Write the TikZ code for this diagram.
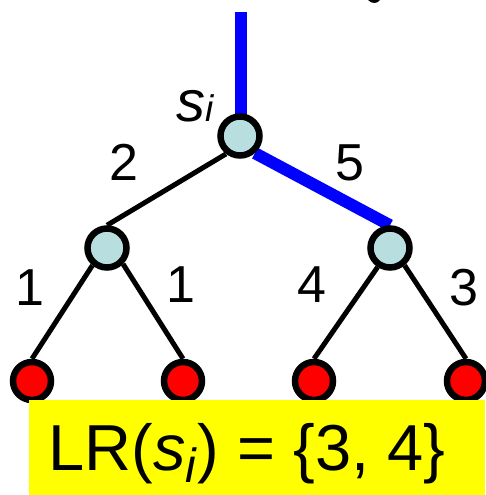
\documentclass[tikz,border=0pt]{standalone}
\usepackage{fontspec}
\setmainfont{Liberation Sans}
\usetikzlibrary{backgrounds}
\definecolor{nodeblue}{RGB}{185,222,224}
\definecolor{pathblue}{RGB}{0,0,255}
\definecolor{leafred}{RGB}{255,0,0}
\definecolor{boxyellow}{RGB}{255,255,0}
\tikzset{
  inner/.style={circle,draw=black,line width=6.5pt,fill=nodeblue,minimum size=39pt,inner sep=0pt},
  leaf/.style={circle,draw=black,line width=6.5pt,fill=leafred,minimum size=38pt,inner sep=0pt},
  edge/.style={line width=5pt,black},
  hot/.style={line width=12pt,pathblue},
  weight/.style={inner sep=0pt,anchor=base,font=\fontsize{52}{60}\selectfont},
}
\begin{document}
\begin{tikzpicture}[x=1pt,y=-1pt]
\useasboundingbox (0,0) rectangle (485,495);
% tiny cropped glyph fragment at top
\fill[black] (368,0) .. controls (372,4) and (377,4) .. (380,0) -- cycle;
\node[inner] (root) at (240,136) {};
\node[inner] (L) at (107,248) {};
\node[inner] (R) at (390,248) {};
\node[leaf] (LL) at (32,381) {};
\node[leaf] (LR) at (183,381) {};
\node[leaf] (RL) at (314,381) {};
\node[leaf] (RR) at (466,381) {};
\coordinate (top) at (241,12);
\begin{pgfonlayer}{background}
\draw[hot] (top) -- (241,120);
\draw[hot] (root.311) -- (R.north);
\draw[edge] (root.232) -- (L.north);
\draw[edge] (L.230) -- (LL.north);
\draw[edge] (L.315) -- (LR.north);
\draw[edge] (R.237) -- (RL.north);
\draw[edge] (R.310) -- (RR.north);
\end{pgfonlayer}
% labels
\node[inner sep=0pt,anchor=base west,font=\fontsize{58}{64}\selectfont] (si) at (176,121) {\textit{s}\raisebox{-1pt}{\fontsize{37}{40}\selectfont\textit{i}}};
\node[weight] (w2) at (124,180) {2};
\node[weight] (w5) at (350,180) {5};
\node[weight] (w1a) at (30,305) {1};
\node[weight] (w1b) at (181,302) {1};
\node[weight] (w4) at (312,302) {4};
\node[weight] (w3) at (464,305) {3};
% yellow result box
\fill[boxyellow] (29,400) rectangle (485,495);
\node[inner sep=0pt,anchor=base,font=\fontsize{65}{72}\selectfont] (lr) at (247,470)
  {LR(\textit{s}\raisebox{-12pt}{\fontsize{48}{50}\selectfont\textit{i}}) = \{3, 4\}};
\end{tikzpicture}
\end{document}
